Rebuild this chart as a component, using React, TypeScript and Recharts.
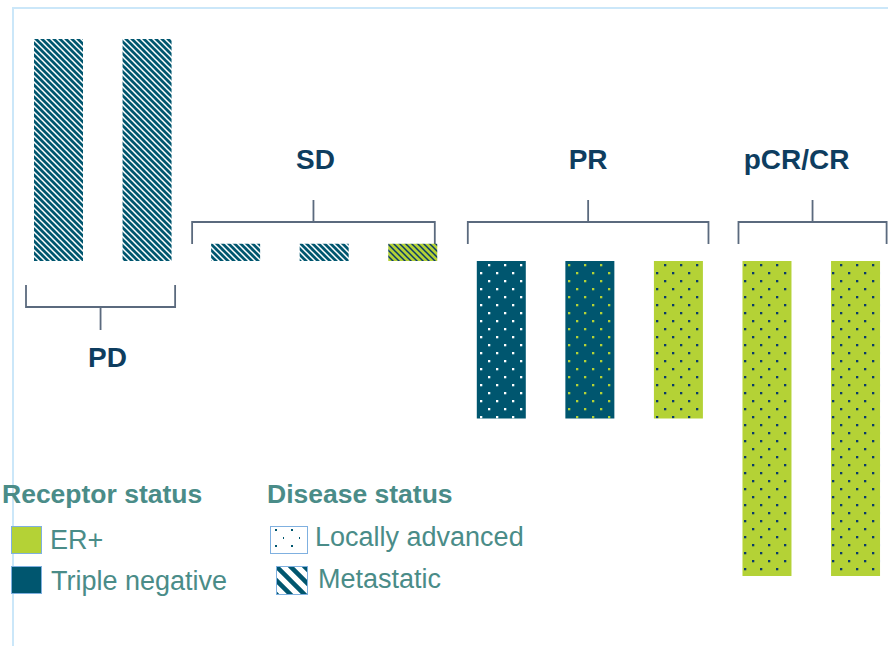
import { BarChart, Bar, XAxis, YAxis, Cell, ReferenceArea } from 'recharts';

// waterfall bars: % change per patient, grouped by best response
const categories = ['PD-1', 'PD-2', 'SD-1', 'SD-2', 'SD-3', 'PR-1', 'PR-2', 'PR-3', 'CR-1', 'CR-2'];
const changeValues = [70.5, 70.5, 5.5, 5.5, 5.5, -50, -50, -50, -100, -100];
const barPatterns = ['met-tn', 'met-tn', 'met-tn', 'met-tn', 'met-er', 'la-tn', 'la-tn-g', 'la-er', 'la-er', 'la-er'];

const groupLabels = ['PD', 'SD', 'PR', 'pCR/CR'];
const groupFirst = ['PD-1', 'SD-1', 'PR-1', 'CR-1'];
const groupLast = ['PD-2', 'SD-3', 'PR-3', 'CR-2'];

const receptorLabels = ['ER+', 'Triple negative'];
const diseaseLabels = ['Locally advanced', 'Metastatic'];

const TEAL = '#00566f';
const GREEN = '#b4d236';
const NAVY = '#0b3a6a';
const LABEL = '#0e3d5f';
const LEGEND = '#4a8c88';
const FRAME = '#cbe7f9';
const FONT = '"Liberation Sans", Arial, sans-serif';

const BRACKET_LAYOUT: Record<string, { below: boolean; insetL: number; insetR: number; labelDx: number }> = {
  PD: { below: true, insetL: 12, insetR: 16, labelDx: 7 },
  SD: { below: false, insetL: 1, insetR: 22, labelDx: 2 },
  PR: { below: false, insetL: 11, insetR: 14, labelDx: 0 },
  'pCR/CR': { below: false, insetL: 16, insetR: 13, labelDx: -16 },
};

const data = categories.map((name, i) => ({ name, value: changeValues[i], pattern: barPatterns[i] }));

const makeBracket = (label: string) => (props: any) => {
  const { x, y, width, height } = props;
  const base = y + height; // pixel of value 0
  const L = BRACKET_LAYOUT[label];
  const x1 = x + L.insetL;
  const x2 = x + width - L.insetR;
  const cx = (x1 + x2) / 2;
  const s = L.below ? 1 : -1;
  const tickStart = base + s * (L.below ? 24 : 17);
  const bar = base + s * (L.below ? 46 : 39);
  const stemEnd = base + s * (L.below ? 69 : 61);
  const textY = L.below ? base + 106 : base - 92;
  return (
    <g>
      <path
        d={`M${x1},${tickStart}L${x1},${bar}L${x2},${bar}L${x2},${tickStart}M${cx},${bar}L${cx},${stemEnd}`}
        fill="none"
        stroke="#5b6a7e"
        strokeWidth={1.8}
      />
      <text x={cx + L.labelDx} y={textY} textAnchor="middle" fontSize={28} fontWeight="bold" fill={LABEL} fontFamily={FONT}>
        {label}
      </text>
    </g>
  );
};

const Dots = ({ id, bg, dot }: { id: string; bg: string; dot: string }) => (
  <pattern id={id} width={16} height={16} patternUnits="userSpaceOnUse">
    <rect width={16} height={16} fill={bg} />
    <rect x={0} y={0} width={2.3} height={2.3} fill={dot} />
    <rect x={8} y={8} width={2.3} height={2.3} fill={dot} />
  </pattern>
);

const Hatch = ({ id, bg, line }: { id: string; bg: string; line: string }) => (
  <pattern id={id} width={6} height={6} patternUnits="userSpaceOnUse">
    <rect width={6} height={6} fill={bg} />
    <path d="M-1,-1L7,7M-1,5L1,7M5,-1L7,1" stroke={line} strokeWidth={1.5} />
  </pattern>
);

const textStyle = (left: number, top: number, bold = false): React.CSSProperties => ({
  position: 'absolute',
  left,
  top,
  fontSize: bold ? 26.5 : 27,
  lineHeight: bold ? '26.5px' : '27px',
  fontWeight: bold ? 'bold' : 'normal',
  color: LEGEND,
  fontFamily: FONT,
  whiteSpace: 'nowrap',
});

const swatch = (left: number, top: number, w: number, h: number, bg: string): React.CSSProperties => ({
  position: 'absolute',
  left,
  top,
  width: w,
  height: h,
  boxSizing: 'border-box',
  border: '1px solid #7fb0e0',
  background: bg,
});

export default function App() {
  return (
    <div style={{ position: 'absolute', left: 0, top: 0, width: 888, height: 646, overflow: 'hidden', background: '#fff' }}>
      <div
        style={{
          position: 'absolute',
          left: 12,
          top: 7,
          width: 900,
          height: 700,
          borderTop: `2px solid ${FRAME}`,
          borderLeft: `2px solid ${FRAME}`,
        }}
      />
      <div style={{ position: 'absolute', left: 0, top: 0 }}>
        <BarChart width={900} height={646} data={data} margin={{ top: 9, right: 0.4, bottom: 38.5, left: 14 }}>
          <defs>
            <Dots id="la-tn" bg={TEAL} dot="#ffffff" />
            <Dots id="la-tn-g" bg={TEAL} dot={GREEN} />
            <Dots id="la-er" bg={GREEN} dot={NAVY} />
            <Hatch id="met-tn" bg={TEAL} line="#ffffff" />
            <Hatch id="met-er" bg={GREEN} line={NAVY} />
          </defs>
          <XAxis dataKey="name" hide />
          <YAxis type="number" domain={[-110, 80]} hide />
          {groupLabels.map((g, i) => (
            <ReferenceArea
              key={g}
              x1={groupFirst[i]}
              x2={groupLast[i]}
              y1={0}
              y2={80}
              shape={makeBracket(g)}
            />
          ))}
          <Bar dataKey="value" barSize={49} isAnimationActive={false}>
            {data.map((d) => (
              <Cell key={d.name} fill={`url(#${d.pattern})`} />
            ))}
          </Bar>
        </BarChart>
      </div>

      <div style={textStyle(2, 480.5, true)}>Receptor status</div>
      <div style={swatch(11, 526, 31, 28, GREEN)} />
      <div style={textStyle(50, 527)}>{receptorLabels[0]}</div>
      <div style={swatch(11, 566, 31, 28, TEAL)} />
      <div style={textStyle(51, 568)}>{receptorLabels[1]}</div>

      <div style={textStyle(267, 480.5, true)}>Disease status</div>
      <svg style={{ position: 'absolute', left: 270, top: 526 }} width={38} height={28}>
        <defs>
          <pattern id="la-swatch" x={-2} y={-3} width={16} height={16} patternUnits="userSpaceOnUse">
            <rect width={16} height={16} fill="#ffffff" />
            <rect x={7} y={6} width={2} height={2} fill={TEAL} />
            <rect x={15} y={14} width={2} height={2} fill={TEAL} />
          </pattern>
        </defs>
        <rect x={0.5} y={0.5} width={37} height={27} fill="url(#la-swatch)" stroke="#7fb0e0" />
      </svg>
      <div style={textStyle(315, 524)}>{diseaseLabels[0]}</div>
      <svg style={{ position: 'absolute', left: 276, top: 566 }} width={32} height={29}>
        <defs>
          <pattern id="met-swatch" width={14} height={14} patternUnits="userSpaceOnUse">
            <rect width={14} height={14} fill="#ffffff" />
            <path d="M-2,-2L16,16M-2,12L2,16M12,-2L16,2" stroke={TEAL} strokeWidth={4.5} />
          </pattern>
        </defs>
        <rect x={0.5} y={0.5} width={31} height={28} fill="url(#met-swatch)" stroke="#7fb0e0" />
      </svg>
      <div style={textStyle(318, 566)}>{diseaseLabels[1]}</div>
    </div>
  );
}
